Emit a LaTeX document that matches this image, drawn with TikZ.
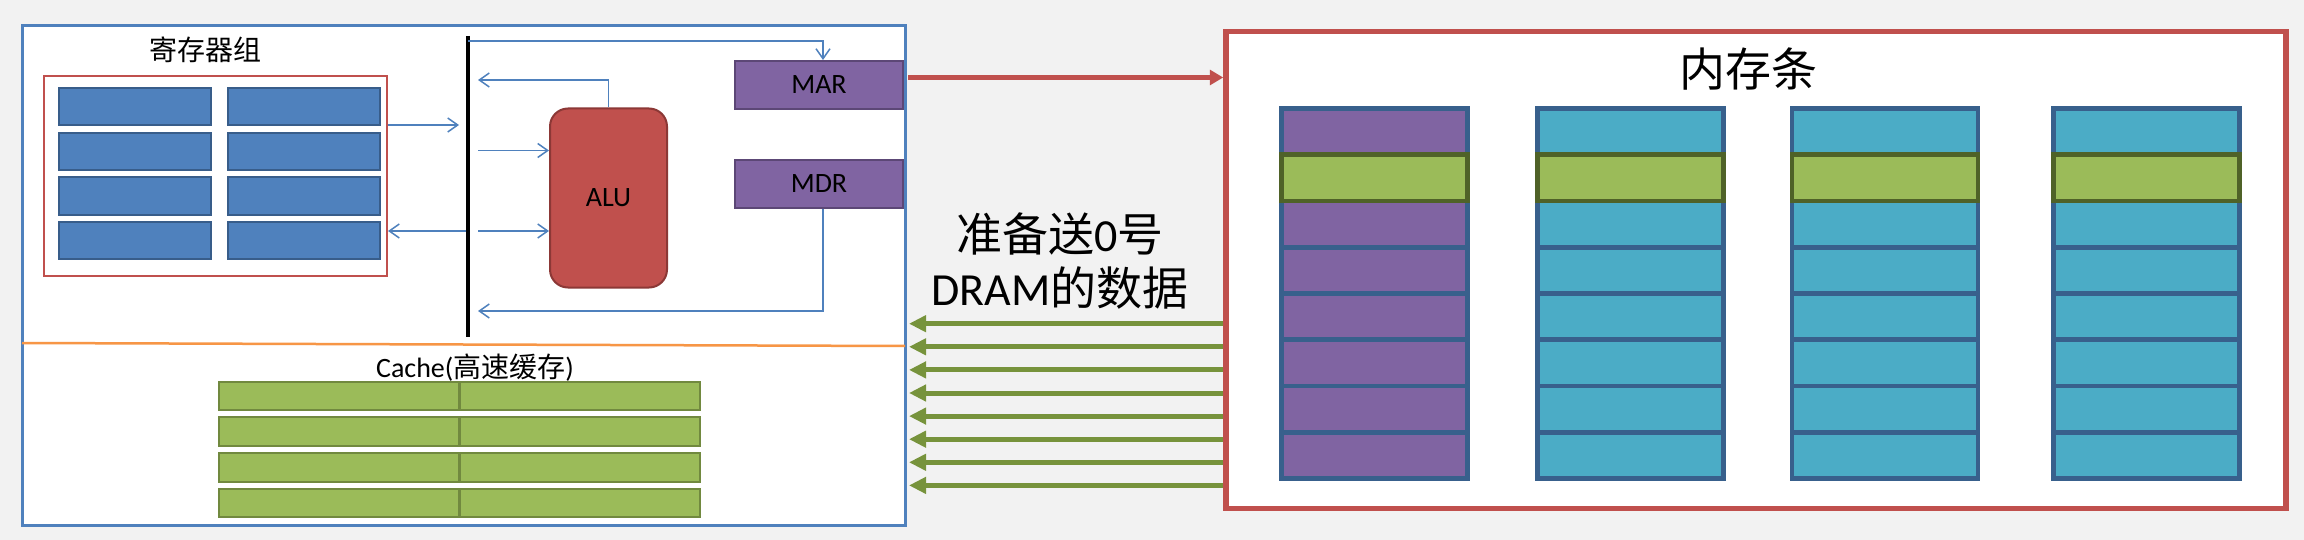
\documentclass[tikz,border=0pt]{standalone}
\usepackage{fontspec}
\setmainfont{Carlito}
\newfontfamily\cjk{Noto Sans CJK SC}
\usetikzlibrary{arrows.meta}
\definecolor{bgGray}{HTML}{F2F2F2}
\definecolor{cpuBlue}{HTML}{4F81BD}
\definecolor{regBlue}{HTML}{4F81BD}
\definecolor{regEdge}{HTML}{385D8A}
\definecolor{boxRed}{HTML}{C0504D}
\definecolor{aluEdge}{HTML}{8C3836}
\definecolor{memPurple}{HTML}{8064A2}
\definecolor{purpleEdge}{HTML}{5C4776}
\definecolor{memTeal}{HTML}{4BACC6}
\definecolor{cellEdge}{HTML}{38608C}
\definecolor{cacheGreen}{HTML}{9BBB59}
\definecolor{cacheEdge}{HTML}{71893F}
\definecolor{hotEdge}{HTML}{4F6228}
\definecolor{arrowGreen}{HTML}{77933C}
\definecolor{splitOrange}{HTML}{F79646}

\begin{document}
\begin{tikzpicture}[x=0.5pt,y=-0.5pt,
      thin arrow/.style={draw=cpuBlue, line width=0.75pt, -{Straight Barb[length=5pt,width=7pt]}},
      reg cell/.style={draw=regEdge, fill=regBlue, line width=1pt, minimum width=76pt, minimum height=18.5pt, inner sep=0pt},
      cache cell/.style={draw=cacheEdge, fill=cacheGreen, line width=1pt, minimum width=120pt, minimum height=14.25pt, inner sep=0pt},
      mem cell/.style={draw=cellEdge, line width=2.25pt, minimum width=93pt, minimum height=23.1pt, inner sep=0pt},
      hot cell/.style={draw=hotEdge, fill=cacheGreen},
      reg name/.style={draw=purpleEdge, fill=memPurple, line width=1pt, minimum width=84pt, minimum height=24pt, inner sep=0pt, font=\fontsize{14}{16}\selectfont},
      data arrow/.style={draw=arrowGreen, line width=2.5pt, -{Triangle[length=8.5pt,width=8pt]}}]
      \path[use as bounding box, fill=bgGray] (0,0) rectangle (2304,540);

      \node[draw=cpuBlue, fill=white, line width=1.5pt, minimum width=441.5pt, minimum height=249.5pt, inner sep=0pt] (cpu) at (463.5,275.5) {};
      \node[draw=boxRed, fill=white, line width=2.75pt, minimum width=530pt, minimum height=238.5pt, inner sep=0pt] (mem) at (1756,270) {};

      \node[font=\fontsize{14}{16}\selectfont\cjk] (regTitle) at (205,50) {寄存器组};
      \node[draw=boxRed, line width=1pt, minimum width=171.5pt, minimum height=100pt, inner sep=0pt] (regs) at (215.5,176) {};
      \foreach \r in {0,...,3} {
        \node[reg cell] (regA\r) at (135,{107+44.5*\r}) {};
        \node[reg cell] (regB\r) at (303.5,{107+44.5*\r}) {};
      }

      \coordinate (busTop) at (468,36);
      \coordinate (busBot) at (468,337);
      \draw[line width=2pt] (busTop) -- (busBot);

      \node[draw=aluEdge, fill=boxRed, line width=1pt, rounded corners=9pt, minimum width=58.5pt, minimum height=89.5pt, inner sep=0pt, font=\fontsize{14}{16}\selectfont] (alu) at (608.5,198) {ALU};
      \node[reg name] (mar) at (819,85) {MAR};
      \node[reg name] (mdr) at (819,183.6) {MDR};

      \coordinate (busL1) at (459,125);
      \coordinate (busL2) at (466,231);
      \coordinate (busR1) at (478,80);
      \coordinate (busR2) at (478,150.5);
      \coordinate (busR3) at (478,231);
      \coordinate (busR4) at (478,311);
      \coordinate (busT) at (468,41);
      \draw[thin arrow] (regs.east |- busL1) -- (busL1);
      \draw[thin arrow] (busL2) -- (regs.east |- busL2);
      \draw[thin arrow] (alu.north) |- (busR1);
      \draw[thin arrow] (busR2) -- (alu.west |- busR2);
      \draw[thin arrow] (busR3) -- (alu.west |- busR3);
      \draw[thin arrow] (busT) -| ([xshift=2pt]mar.north);
      \draw[thin arrow] ([xshift=2pt]mdr.south) |- (busR4);

      \coordinate (splitL) at (22,343);
      \coordinate (splitR) at (905,346);
      \draw[splitOrange, line width=1.25pt] (splitL) -- (splitR);

      \node[font=\fontsize{14}{16}\selectfont] (cacheLbl) at (475,368) {Cache({\cjk 高速缓存})};
      \foreach \r in {0,...,3} {
        \node[cache cell] (cacheL\r) at (339,{396+35.7*\r}) {};
        \node[cache cell] (cacheR\r) at (579.5,{396+35.7*\r}) {};
      }

      \coordinate (marOut) at (908,77.5);
      \draw[boxRed, line width=2.4pt, -{Triangle[length=6.7pt,width=7.4pt]}] (marOut) -- (mem.west |- marOut);

      \node[align=center, font=\fontsize{23}{26.8}\selectfont] (note) at (1060,261) {{\cjk 准备送}0{\cjk 号}\\DRAM{\cjk 的数据}};
      \foreach \i in {0,...,7} {
        \coordinate (dataIn\i) at (909,{323.7+23.1*\i});
        \draw[data arrow] (mem.west |- dataIn\i) -- (dataIn\i);
      }

      \node[font=\fontsize{23}{26}\selectfont\cjk] (memTitle) at (1748,69) {内存条};
      \foreach \c/\x/\col in {0/1374.5/memPurple,1/1630.5/memTeal,2/1885/memTeal,3/2146.5/memTeal} {
        \foreach \r in {0,2,3,4,5,6,7}
          \node[mem cell, fill=\col] (mem\c r\r) at (\x,{131.6+46.25*\r}) {};
        \node[mem cell, hot cell] (mem\c r1) at (\x,{131.6+46.25}) {};
      }
    \end{tikzpicture}
\end{document}
